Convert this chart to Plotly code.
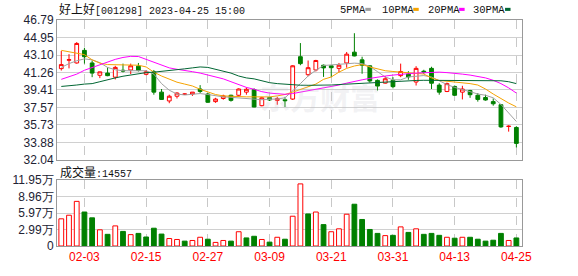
import plotly.graph_objects as go

# ---------------- data ----------------
dates = ["01-31","02-01","02-02","02-03","02-06","02-07","02-08","02-09","02-10","02-13",
         "02-14","02-15","02-16","02-17","02-20","02-21","02-22","02-23","02-24","02-27",
         "02-28","03-01","03-02","03-03","03-06","03-07","03-08","03-09","03-10","03-13",
         "03-14","03-15","03-16","03-17","03-20","03-21","03-22","03-23","03-24","03-27",
         "03-28","03-29","03-30","03-31","04-03","04-04","04-06","04-07","04-10","04-11",
         "04-12","04-13","04-14","04-17","04-18","04-19","04-20","04-21","04-24","04-25"]

open_ = [41.66,42.55,42.26,43.59,42.26,40.96,41.19,40.76,41.49,41.52,
         41.92,41.06,41.32,39.18,38.25,38.75,38.95,38.98,39.51,38.98,
         38.18,38.51,38.85,38.85,39.18,39.45,37.75,38.61,38.31,38.38,
         38.45,42.92,41.02,41.52,42.02,41.96,41.69,42.26,43.40,42.59,
         41.96,40.42,40.13,40.42,40.92,41.09,40.25,41.39,41.69,39.92,
         39.25,39.78,39.18,39.35,38.85,38.61,38.18,37.85,35.55,35.45]
high = [43.52,43.19,44.46,43.86,42.52,41.35,41.79,41.96,42.19,42.19,
        42.26,41.52,41.52,39.51,38.91,39.18,39.03,39.18,39.92,39.08,
        38.58,38.91,38.91,39.58,39.68,39.58,38.68,38.68,38.68,38.68,
        42.02,44.36,42.52,42.59,42.09,41.99,42.26,43.42,45.40,42.92,
        42.02,40.52,40.86,40.76,42.19,41.39,41.92,41.54,41.86,40.12,
        40.19,39.88,39.85,39.42,39.08,38.91,38.51,37.85,35.68,35.58]
low = [41.46,41.69,42.19,42.19,40.76,40.66,40.86,40.52,41.26,41.09,
       41.36,40.96,38.91,38.35,38.01,38.51,38.91,38.78,39.08,38.05,
       38.05,38.38,38.18,38.68,38.91,37.58,37.68,38.25,37.85,37.61,
       38.35,42.02,40.86,41.36,40.79,40.76,41.26,41.76,42.96,41.12,
       40.19,39.35,40.08,39.58,40.76,40.49,39.88,41.09,39.51,38.91,
       39.18,38.78,38.41,38.58,38.18,38.28,37.75,35.41,35.01,33.34]
close = [42.09,42.60,44.32,42.92,41.19,41.32,40.92,41.79,41.41,41.96,
         41.46,41.33,39.18,38.41,38.75,39.08,38.98,39.18,39.25,38.11,
         38.45,38.78,38.31,39.51,39.48,37.61,38.58,38.35,38.51,38.28,
         41.96,42.19,41.76,42.52,41.74,41.76,42.02,43.19,43.00,42.02,
         40.36,39.82,40.59,39.76,41.36,40.79,41.69,41.31,40.12,39.18,
         40.08,38.85,39.51,38.91,38.41,38.35,37.95,35.51,35.58,33.77]

ma5 = [41.79,42.19,42.49,42.69,42.59,42.29,41.79,41.54,41.44,41.44,
       41.44,41.44,41.08,40.08,39.38,38.98,38.88,38.93,39.03,38.93,
       38.78,38.68,38.63,38.58,38.53,38.48,38.38,38.43,38.45,38.58,
       39.28,40.08,40.88,41.49,41.99,42.04,42.14,42.19,42.24,42.19,
       41.89,41.34,40.78,40.48,40.48,40.78,40.88,40.93,40.78,40.38,
       39.98,39.68,39.48,39.23,38.98,38.85,38.58,37.88,36.98,36.08]
ma10 = [43.59,43.44,43.26,43.14,42.59,42.24,42.09,42.06,42.04,42.04,
        42.02,41.84,41.29,40.88,40.53,40.23,40.03,39.83,39.48,39.18,
        38.93,38.78,38.73,38.68,38.68,38.68,38.68,38.68,38.78,38.93,
        39.18,39.48,39.78,40.03,40.53,40.78,41.29,41.69,41.94,42.09,
        41.84,41.64,41.44,41.36,41.29,41.24,41.19,41.09,40.68,40.41,
        40.33,40.25,40.18,40.08,39.93,39.51,38.98,38.48,38.03,37.63]
ma20 = [40.53,40.78,41.08,41.49,41.79,42.09,42.39,42.64,42.84,42.96,
        42.94,42.64,42.29,41.99,41.74,41.59,41.49,41.34,41.19,40.98,
        40.83,40.58,40.28,39.98,39.68,39.48,39.23,39.08,38.98,38.95,
        39.03,39.18,39.33,39.48,39.63,39.73,39.93,40.13,40.33,40.48,
        40.63,40.78,40.88,40.98,41.08,41.13,41.19,41.24,41.29,41.29,
        41.24,41.19,41.08,40.98,40.85,40.68,40.43,40.08,39.63,39.08]
ma30 = [39.78,39.83,39.93,40.03,40.08,40.28,40.52,40.68,40.86,40.98,
        41.14,41.24,41.29,41.36,41.49,41.54,41.64,41.74,41.84,41.79,
        41.59,41.39,41.19,40.88,40.68,40.58,40.38,40.18,40.08,40.00,
        39.95,39.91,39.90,39.90,39.91,39.93,39.98,40.03,40.08,40.13,
        40.18,40.23,40.28,40.33,40.35,40.38,40.41,40.43,40.43,40.43,
        40.43,40.43,40.43,40.43,40.43,40.43,40.41,40.38,40.28,40.08]

volume = [49200,55700,80800,61500,51000,29300,21100,36400,26400,20600,
          22800,16300,32200,21600,13500,11800,8800,10000,15800,12300,
          6500,10000,8800,25800,14600,17600,11800,7000,15800,12300,
          53900,112400,58000,61500,38700,25800,31100,57500,75600,48000,
          29900,22800,18800,19300,34600,24600,31100,21100,22800,19300,
          15800,14100,15800,15800,12300,8800,10500,22800,10000,14557]

price_ticks = [32.04, 33.88, 35.73, 37.57, 39.41, 41.26, 43.10, 44.95, 46.79]
vol_ticks = [0, 29900, 59700, 89600, 119500]
vol_tick_text = ["0", "2.99万", "5.97万", "8.96万", "11.95万"]
date_tick_idx = [3, 11, 19, 27, 35, 43, 51, 59]

title_name = "好上好"
title_rest = "[001298] 2023-04-25 15:00"
vol_label = "成交量"
ma_names = ["5PMA", "10PMA", "20PMA", "30PMA"]

# ---------------- styles ----------------
UP = "#ff0000"
DOWN = "#008000"
ma_colors = ["#a0a0a0", "#f5a300", "#ff00ff", "#006633"]
W, H = 578, 276
L, R, T, B = 56, 522, 20, 256          # plot area in px
P_BOT, V_TOP = 166, 187                 # price-bottom, volume-top px

def px_x(px):
    return (px - L) / (R - L)

def px_y(py):
    return (B - py) / (B - T)

idx = list(range(len(dates)))
vol_colors = []
for i in idx:
    up = i == 0 or close[i] >= close[i - 1]
    vol_colors.append(UP if up else DOWN)
vol_fill = ["#ffffff" if c == UP else c for c in vol_colors]

fig = go.Figure()

fig.add_trace(go.Candlestick(
    x=idx, open=open_, high=high, low=low, close=close,
    increasing=dict(line=dict(color=UP, width=1), fillcolor="#ffffff"),
    decreasing=dict(line=dict(color=DOWN, width=1), fillcolor=DOWN),
    whiskerwidth=0, xaxis="x", yaxis="y", showlegend=False, hoverinfo="skip"))

for name, vals, col in zip(ma_names, [ma5, ma10, ma20, ma30], ma_colors):
    fig.add_trace(go.Scatter(x=idx, y=vals, mode="lines", name=name,
                             line=dict(color=col, width=1),
                             xaxis="x", yaxis="y", showlegend=False, hoverinfo="skip"))

fig.add_trace(go.Bar(x=idx, y=volume, marker=dict(color=vol_fill,
                     line=dict(color=vol_colors, width=1)),
                     width=0.62, xaxis="x2", yaxis="y2", showlegend=False, hoverinfo="skip"))

xr = [-0.556, 59.73]
common_x = dict(range=xr, showgrid=True, gridcolor="#c8c8c8", griddash="dash", gridwidth=1,
                showline=True, linecolor="#999999", linewidth=1, mirror=True,
                zeroline=False, ticks="", tickvals=date_tick_idx, fixedrange=True)

price_dom0 = px_y(P_BOT)
vol_dom1 = px_y(V_TOP)

fig.update_layout(
    width=W, height=H,
    margin=dict(l=L, r=W - R, t=T, b=H - B, pad=0),
    paper_bgcolor="#ffffff", plot_bgcolor="#ffffff",
    font=dict(family="Liberation Sans, Arial, sans-serif", size=12, color="#222233"),
    bargap=0.3,
    xaxis=dict(common_x, anchor="y", showticklabels=False, rangeslider=dict(visible=False)),
    xaxis2=dict(common_x, anchor="y2", ticktext=[dates[i] for i in date_tick_idx],
                tickfont=dict(color="#ff0000", size=12, family="Liberation Sans, Arial")),
    yaxis=dict(domain=[price_dom0, 1], range=[32.035, 46.795], tickvals=price_ticks,
               ticktext=[f"{v:.2f}" for v in price_ticks],
               showgrid=True, gridcolor="#d0d0d0", gridwidth=1, zeroline=False,
               showline=True, linecolor="#999999", linewidth=1, mirror=True, ticks="",
               tickfont=dict(size=12, color="#222233")),
    yaxis2=dict(domain=[0, vol_dom1], range=[0, 119600], tickvals=vol_ticks,
                ticktext=vol_tick_text,
                showgrid=True, gridcolor="#d0d0d0", gridwidth=1, zeroline=False,
                showline=True, linecolor="#999999", linewidth=1, mirror=True, ticks="",
                tickfont=dict(size=12, color="#222233")),
)

ann = []
# watermark
ann.append(dict(xref="paper", yref="paper", x=px_x(320), y=px_y(74), text="<b>东方财富</b>",
                showarrow=False, font=dict(size=30, color="rgba(190,190,200,0.2)",
                                           family="Noto Sans CJK SC")))
# title
ann.append(dict(xref="paper", yref="paper", x=px_x(56), y=px_y(8), xanchor="left", yanchor="middle",
                text=f'<span style="font-family:Noto Sans CJK SC;font-size:12px">{title_name}</span>{title_rest}',
                showarrow=False, font=dict(size=10, color="#111111", family="Liberation Mono, DejaVu Sans Mono")))
# volume label
ann.append(dict(xref="paper", yref="paper", x=px_x(57), y=px_y(178), xanchor="left", yanchor="middle",
                text=f'<span style="font-family:Noto Sans CJK SC;font-size:12px">{vol_label}</span>:{volume[-1]}',
                showarrow=False, font=dict(size=10, color="#111111", family="Liberation Mono, DejaVu Sans Mono")))

legend_text_x = [338, 380, 426, 471]
legend_sq_x = [365, 413, 459, 505]
shapes = []
for name, col, tx, sx in zip(ma_names, ma_colors, legend_text_x, legend_sq_x):
    ann.append(dict(xref="paper", yref="paper", x=px_x(tx), y=px_y(9.5), xanchor="left", yanchor="middle",
                    text=name, showarrow=False,
                    font=dict(size=10.5, color="#111111", family="Liberation Mono, DejaVu Sans Mono")))
    shapes.append(dict(type="rect", xref="paper", yref="paper",
                       x0=px_x(sx), x1=px_x(sx + 5.5), y0=px_y(10.5), y1=px_y(7.3),
                       fillcolor=col, line=dict(width=0)))

fig.update_layout(annotations=ann, shapes=shapes)

fig.write_html("out.html")
